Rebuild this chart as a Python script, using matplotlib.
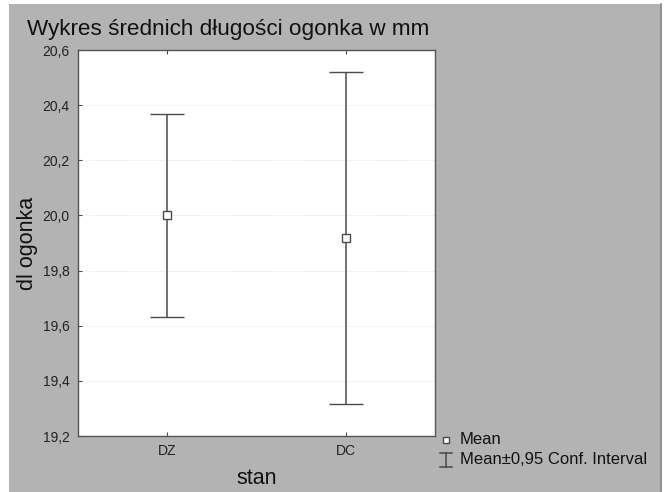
import matplotlib
matplotlib.use("Agg")
import matplotlib.pyplot as plt
from matplotlib.patches import Rectangle
from matplotlib.lines import Line2D
from matplotlib.ticker import FuncFormatter

groups = ["DZ", "DC"]
means = [20.00, 19.918]
ci_low = [19.632, 19.316]
ci_high = [20.368, 20.52]
yticks = [19.2, 19.4, 19.6, 19.8, 20.0, 20.2, 20.4, 20.6]

plt.rcParams["font.family"] = ["Liberation Sans", "DejaVu Sans"]
BG = "#b3b3b3"
INK = "#4a4a4a"

fig = plt.figure(figsize=(6.64, 4.92), dpi=100)
fig.patch.set_facecolor("white")
W, H = 664, 492
fig.patches.append(Rectangle((9 / W, 0), (662 - 9) / W, (492 - 4) / H,
                             transform=fig.transFigure, facecolor=BG,
                             edgecolor="none", zorder=-10))
fig.lines.append(Line2D([661 / W, 661 / W], [0, 1 - 4 / H], transform=fig.transFigure,
                        color="#8a8a8a", lw=1.2))

ax = fig.add_axes([78 / W, 1 - 436 / H, (435 - 78) / W, (436 - 50) / H])
ax.set_facecolor("white")
x = list(range(len(groups)))
yerr = [[m - lo for m, lo in zip(means, ci_low)], [hi - m for m, hi in zip(means, ci_high)]]
ax.errorbar(x, means, yerr=yerr, fmt="s", color=INK, ecolor=INK, elinewidth=1.1,
            capsize=12.5, capthick=1.1, markersize=5.5, markerfacecolor="white",
            markeredgecolor=INK, markeredgewidth=1.0)

ax.set_xlim(-0.5, 1.5)
ax.set_ylim(19.2, 20.6)
ax.set_yticks(yticks)
ax.yaxis.set_major_formatter(FuncFormatter(lambda v, p: f"{v:.1f}".replace(".", ",")))
ax.set_xticks(x)
ax.set_xticklabels(groups)
ax.tick_params(direction="in", length=3, width=0.8, color=INK, labelsize=10,
               labelcolor="#222222", top=True, pad=6)
ax.grid(axis="y", color="#e6e6e6", lw=0.7, ls=(0, (1, 1)))
for s in ax.spines.values():
    s.set_color("#555555")
    s.set_linewidth(1.0)

ax.set_ylabel("dl ogonka", fontsize=15.5, color="#111111", labelpad=3)
ax.set_xlabel("stan", fontsize=15.5, color="#111111", labelpad=7)
fig.text(27 / W, 1 - 30 / H, "Wykres średnich długości ogonka w mm", fontsize=16.2,
         color="#111111", va="center", ha="left")

# legend
fig.lines.append(Line2D([446 / W], [1 - 440 / H], transform=fig.transFigure, marker="s",
                        markersize=5, markerfacecolor="white", markeredgecolor=INK,
                        markeredgewidth=1.0, linestyle="none"))
lx, ly0, ly1 = 446 / W, 1 - 453 / H, 1 - 467 / H
fig.lines.append(Line2D([lx, lx], [ly0, ly1], transform=fig.transFigure, color=INK, lw=1.1))
for yy in (ly0, ly1):
    fig.lines.append(Line2D([lx - 6 / W, lx + 6 / W], [yy, yy], transform=fig.transFigure,
                            color=INK, lw=1.1))
fig.text(460 / W, 1 - 440 / H, "Mean", fontsize=12, color="#111111", va="center")
fig.text(460 / W, 1 - 460 / H, "Mean±0,95 Conf. Interval", fontsize=12,
         color="#111111", va="center")

fig.savefig("out.png", dpi=100)
